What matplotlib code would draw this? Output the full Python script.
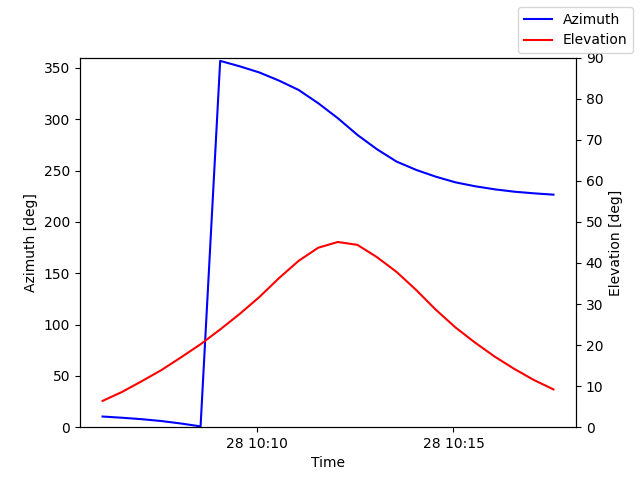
import numpy as np
import pandas as pd
import matplotlib
matplotlib.use('Agg')
import matplotlib.pyplot as plt

# pass samples every 30 s
times = pd.date_range('2023-03-28 10:06:03', periods=24, freq='30s')

azimuth = [10.4, 9.2, 7.8, 6.0, 3.6, 0.8,
           356.8, 351.5, 345.5, 337.6, 328.5, 315.6,
           301.0, 284.7, 270.7, 258.7, 250.6, 244.0,
           238.5, 234.7, 231.7, 229.4, 227.8, 226.5]

elevation = [6.4, 8.6, 11.2, 13.9, 17.0, 20.2,
             23.8, 27.6, 31.7, 36.3, 40.5, 43.7,
             45.1, 44.4, 41.4, 37.8, 33.4, 28.6,
             24.3, 20.6, 17.2, 14.2, 11.5, 9.2]

fig, ax1 = plt.subplots(figsize=(6.4, 4.8), dpi=100)
ax1.plot(times, azimuth, color='b', label='Azimuth')
ax1.set_ylim(0, 360)
ax1.set_xlabel('Time')
ax1.set_ylabel('Azimuth [deg]')

ax2 = ax1.twinx()
ax2.plot(times, elevation, color='r', label='Elevation')
ax2.set_ylim(0, 90)
ax2.set_ylabel('Elevation [deg]')

fig.legend()
fig.savefig('out.png')
